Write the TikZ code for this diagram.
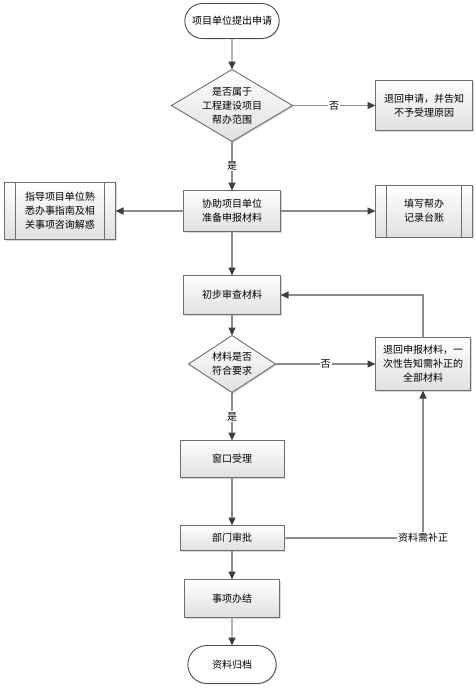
\documentclass[tikz,border=0pt]{standalone}
\usepackage{fontspec}
\setmainfont{Noto Sans CJK SC}
\usepackage{xcolor}
\usetikzlibrary{shapes.geometric,shapes.misc,arrows.meta,positioning,shadows}
\definecolor{linegray}{HTML}{8C8C8C}
\definecolor{tipgray}{HTML}{3F3F3F}
\definecolor{framegray}{HTML}{6E6E6E}
\definecolor{shadegray}{HTML}{E0E0E0}

\begin{document}
\begin{tikzpicture}[x=1pt, y=1pt, node distance=30pt,
  every node/.style={font=\fontsize{10}{14}\selectfont, outer sep=0pt},
  proc/.style={draw=framegray, line width=0.9pt, top color=white, bottom color=shadegray, align=center, inner sep=2pt,
    drop shadow={shadow xshift=1.2pt, shadow yshift=-1.2pt, fill=black!30, opacity=.5}},
  subproc/.style={proc, path picture={
    \draw[framegray, line width=0.9pt] ([xshift=11pt]path picture bounding box.north west) -- ([xshift=11pt]path picture bounding box.south west);
    \draw[framegray, line width=0.9pt] ([xshift=-11pt]path picture bounding box.north east) -- ([xshift=-11pt]path picture bounding box.south east);}},
  term/.style={rounded rectangle, draw=framegray!70!black, line width=0.9pt, fill=white, align=center,
    drop shadow={shadow xshift=1pt, shadow yshift=-1pt, fill=black!25, opacity=.4}},
  decide/.style={diamond, draw=framegray, line width=0.9pt, top color=white, bottom color=shadegray, align=center, inner sep=-3pt,
    drop shadow={shadow xshift=1.2pt, shadow yshift=-1.2pt, fill=black!30, opacity=.5}},
  flow/.style={draw=linegray, line width=1.3pt, -{Triangle[length=8pt, width=7pt, color=tipgray]}},
  tag/.style={fill=white, inner sep=1pt}]
\useasboundingbox (0,0) rectangle (475,-689);

\node[term, minimum width=101pt, minimum height=35pt] (start) at (232,-21) {项目单位提出申请};
\node[decide, aspect=1.68, below=31pt of start, minimum width=121pt, minimum height=72pt] (q1) {是否属于\\工程建设项目\\帮办范围};
\node[proc, right=83pt of q1, minimum width=97pt, minimum height=50pt] (reject) {退回申请，并告知\\不予受理原因};
\node[proc, below=49pt of q1, minimum width=97pt, minimum height=41pt] (prep) {协助项目单位\\准备申报材料};
\node[subproc, left=68pt of prep, minimum width=111pt, minimum height=57pt] (guide) {指导项目单位熟\\悉办事指南及相\\关事项咨询解惑};
\node[subproc, right=95pt of prep, minimum width=97pt, minimum height=52pt] (record) {填写帮办\\记录台账};
\node[proc, below=44pt of prep, minimum width=97pt, minimum height=39pt] (check) {初步审查材料};
\node[decide, aspect=1.53, below=21pt of check, minimum width=87pt, minimum height=57pt] (q2) {材料是否\\符合要求};
\node[proc, right=100pt of q2, minimum width=95pt, minimum height=53pt] (back) {退回申报材料，一\\次性告知需补正的\\全部材料};
\node[proc, below=48pt of q2, minimum width=104pt, minimum height=37pt] (accept) {窗口受理};
\node[proc, below=48pt of accept, minimum width=104pt, minimum height=25pt] (approve) {部门审批};
\node[proc, below=29pt of approve, minimum width=95pt, minimum height=38pt] (finish) {事项办结};
\node[term, below=28pt of finish, minimum width=95pt, minimum height=38pt] (archive) {资料归档};

\draw[flow] (start) -- (q1);
\draw[flow] (q1) -- node[tag] {否} (reject);
\draw[flow] (q1) -- node[tag] {是} (prep);
\draw[flow] (prep) -- (guide);
\draw[flow] (prep) -- (record);
\draw[flow] (prep) -- (check);
\draw[flow] (check) -- (q2);
\draw[flow] (q2) -- node[tag] {否} (back);
\draw[flow] (back.north) |- (check.east);
\draw[flow] (q2) -- node[tag] {是} (accept);
\draw[flow] (accept) -- (approve);
\draw[flow] (approve.east) -| node[tag, pos=0.5] {资料需补正} (back.south);
\draw[flow] (approve) -- (finish);
\draw[flow] (finish) -- (archive);
\end{tikzpicture}
\end{document}
